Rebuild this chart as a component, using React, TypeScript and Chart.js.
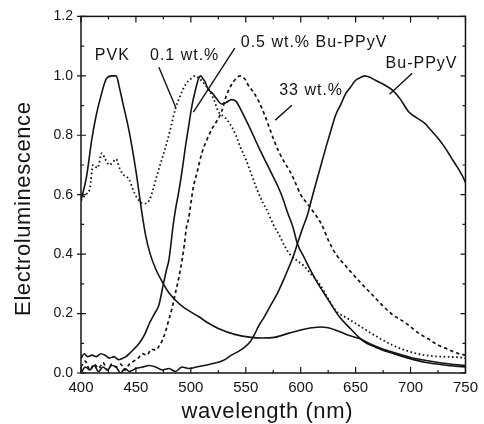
import React, { useEffect, useRef } from "react";
import { Chart, registerables } from "chart.js";

Chart.register(...registerables);

// ---- data (wavelength nm, normalized electroluminescence) ----
const pvkWl = [400, 405, 410, 414, 418, 423, 428, 432, 435, 438, 444, 450, 455, 459, 463, 468, 475, 480, 486, 492, 498, 507, 515, 525, 540, 555, 565, 576, 590, 600, 610, 618, 625, 635, 645, 653, 665, 675, 684, 700, 713, 730, 750];
const pvkEl = [0.58, 0.66, 0.79, 0.87, 0.93, 0.99, 1.0, 1.0, 0.96, 0.91, 0.81, 0.68, 0.55, 0.46, 0.4, 0.35, 0.3, 0.27, 0.245, 0.225, 0.21, 0.19, 0.17, 0.15, 0.13, 0.12, 0.118, 0.12, 0.135, 0.145, 0.152, 0.155, 0.152, 0.14, 0.125, 0.117, 0.095, 0.08, 0.07, 0.052, 0.043, 0.033, 0.025];

const w01Wl = [400, 404, 408, 411, 415, 419, 422, 426, 429, 432, 435, 438, 444, 447, 451, 457, 462, 465, 468, 472, 477, 482, 486, 490, 495, 500, 504, 508, 513, 517, 521, 525, 531, 537, 541, 545, 550, 554, 560, 566, 569, 575, 581, 585, 590, 596, 603, 610, 617, 625, 632, 642, 653, 668, 684, 698, 713, 728, 743, 750];
const w01El = [0.58, 0.6, 0.62, 0.7, 0.69, 0.74, 0.72, 0.7, 0.71, 0.72, 0.69, 0.67, 0.65, 0.62, 0.59, 0.57, 0.58, 0.61, 0.65, 0.7, 0.76, 0.83, 0.89, 0.93, 0.97, 0.99, 1.0, 0.99, 0.97, 0.95, 0.92, 0.88, 0.86, 0.83, 0.8, 0.76, 0.72, 0.68, 0.62, 0.57, 0.55, 0.5, 0.46, 0.43, 0.4, 0.38, 0.36, 0.33, 0.3, 0.25, 0.21, 0.185, 0.16, 0.125, 0.093, 0.073, 0.06, 0.055, 0.053, 0.05];

const w05Wl = [400, 403, 406, 410, 414, 418, 422, 426, 430, 434, 438, 441, 444, 448, 453, 458, 462, 467, 471, 475, 478, 480, 484, 486, 489, 492, 495, 498, 501, 504, 507, 509, 511, 513, 515, 517, 520, 524, 528, 532, 537, 541, 545, 549, 553, 558, 563, 567, 573, 579, 584, 588, 593, 597, 603, 609, 615, 621, 627, 635, 645, 653, 660, 668, 676, 684, 698, 713, 730, 750];
const w05El = [0.05, 0.065, 0.055, 0.06, 0.055, 0.065, 0.06, 0.05, 0.055, 0.045, 0.05, 0.055, 0.065, 0.08, 0.1, 0.13, 0.165, 0.2, 0.23, 0.3, 0.35, 0.38, 0.5, 0.55, 0.61, 0.68, 0.76, 0.83, 0.9, 0.95, 0.99, 1.0, 0.99, 0.98, 0.96, 0.95, 0.94, 0.92, 0.905, 0.91, 0.92, 0.915, 0.89, 0.86, 0.83, 0.79, 0.75, 0.72, 0.675, 0.63, 0.585, 0.54, 0.49, 0.435, 0.39, 0.345, 0.305, 0.27, 0.235, 0.19, 0.15, 0.12, 0.1, 0.087, 0.075, 0.066, 0.05, 0.036, 0.027, 0.02];

const w33Wl = [400, 404, 408, 412, 416, 420, 424, 428, 432, 436, 440, 444, 448, 452, 456, 460, 464, 468, 471, 474, 477, 480, 483, 486, 489, 492, 494, 496, 498, 502, 506, 510, 514, 519, 524, 528, 532, 537, 541, 545, 549, 552, 556, 561, 567, 571, 576, 580, 585, 590, 594, 600, 606, 612, 619, 626, 632, 641, 653, 666, 675, 684, 695, 707, 716, 725, 734, 743, 750];
const w33El = [0.02, 0.04, 0.01, 0.03, 0.015, 0.035, 0.01, 0.03, 0.02, 0.03, 0.01, 0.03, 0.04, 0.05, 0.065, 0.06, 0.08, 0.077, 0.09, 0.11, 0.14, 0.18, 0.22, 0.27, 0.32, 0.38, 0.43, 0.49, 0.52, 0.62, 0.68, 0.74, 0.78, 0.82, 0.85, 0.88, 0.93, 0.97, 0.99, 1.0, 0.99, 0.97, 0.95, 0.92, 0.87, 0.83, 0.78, 0.745, 0.71, 0.68, 0.65, 0.6, 0.57, 0.54, 0.5, 0.44, 0.4, 0.36, 0.31, 0.26, 0.225, 0.195, 0.17, 0.135, 0.115, 0.094, 0.08, 0.066, 0.06];

const buWl = [400, 404, 408, 412, 416, 420, 424, 428, 432, 436, 440, 444, 450, 456, 462, 468, 474, 480, 486, 492, 498, 505, 512, 518, 525, 531, 537, 543, 549, 554, 558, 562, 567, 573, 579, 584, 588, 593, 597, 602, 606, 611, 617, 623, 627, 632, 636, 641, 645, 650, 655, 658, 663, 668, 676, 684, 691, 698, 705, 713, 719, 725, 731, 737, 743, 749, 750];
const buEl = [0.0, 0.02, 0.01, 0.025, 0.005, 0.02, 0.01, 0.025, 0.02, 0.0, 0.015, 0.005, 0.015, 0.02, 0.025, 0.02, 0.01, 0.015, 0.005, 0.02, 0.015, 0.02, 0.025, 0.03, 0.036, 0.045, 0.06, 0.072, 0.087, 0.105, 0.13, 0.16, 0.19, 0.23, 0.27, 0.31, 0.345, 0.39, 0.435, 0.49, 0.53, 0.6, 0.68, 0.76, 0.81, 0.87, 0.9, 0.94, 0.96, 0.985, 0.995, 1.0, 0.995, 0.985, 0.97, 0.95, 0.92, 0.88, 0.86, 0.84, 0.815, 0.79, 0.76, 0.725, 0.69, 0.65, 0.64];

const xTicks = [400, 450, 500, 550, 600, 650, 700, 750];
const yTicks = [0, 0.2, 0.4, 0.6, 0.8, 1.0, 1.2];

const xTitle = "wavelength (nm)";
const yTitle = "Electroluminescence";

// annotation texts and leader lines, in data coordinates
const labelTexts = ["PVK", "0.1 wt.%", "0.5 wt.% Bu-PPyV", "Bu-PPyV", "33 wt.%"];
const labelAt = [
  [412.6, 1.052],
  [462.8, 1.052],
  [545.4, 1.096],
  [677.3, 1.026],
  [580.4, 0.935],
];
const leaders = [
  [[470.9, 1.029], [486.2, 0.894]],
  [[540.0, 1.093], [502.3, 0.878]],
  [[701.5, 1.009], [680.9, 0.938]],
  [[592.0, 0.901], [576.8, 0.851]],
];

const INK = "#141414";
const FONT = "'Liberation Sans', Arial, sans-serif";

const pts = (xs: number[], ys: number[]) => xs.map((x, i) => ({ x, y: ys[i] }));

const decorPlugin = {
  id: "decor",
  afterDatasetsDraw(chart: any) {
    const { ctx, chartArea: a, scales } = chart;
    const xs = scales.x;
    const ys = scales.y;
    ctx.save();
    ctx.strokeStyle = INK;
    ctx.fillStyle = INK;
    // frame
    ctx.lineWidth = 1.5;
    ctx.strokeRect(a.left, a.top, a.right - a.left, a.bottom - a.top);
    ctx.lineWidth = 1.2;
    ctx.beginPath();
    // x ticks (major 50, minor 25) inward on bottom and top
    for (let v = 400; v <= 750; v += 25) {
      const px = xs.getPixelForValue(v);
      const len = v % 50 === 0 ? 6 : 3;
      ctx.moveTo(px, a.bottom);
      ctx.lineTo(px, a.bottom - len);
      ctx.moveTo(px, a.top);
      ctx.lineTo(px, a.top + len);
    }
    // y ticks (major 0.2, minor 0.1)
    for (let i = 0; i <= 12; i++) {
      const py = ys.getPixelForValue(i / 10);
      const major = i % 2 === 0;
      const len = major ? 5 : 3;
      ctx.moveTo(a.left - (major ? 4 : 0), py);
      ctx.lineTo(a.left + len, py);
      ctx.moveTo(a.right, py);
      ctx.lineTo(a.right - len, py);
    }
    ctx.stroke();

    // leader lines
    ctx.lineWidth = 1.4;
    ctx.beginPath();
    leaders.forEach(([p, q]) => {
      ctx.moveTo(xs.getPixelForValue(p[0]), ys.getPixelForValue(p[1]));
      ctx.lineTo(xs.getPixelForValue(q[0]), ys.getPixelForValue(q[1]));
    });
    ctx.stroke();

    // annotation labels
    ctx.font = `16px ${FONT}`;
    (ctx as any).letterSpacing = "1px";
    ctx.textAlign = "left";
    ctx.textBaseline = "alphabetic";
    labelTexts.forEach((t, i) => {
      ctx.fillText(t, xs.getPixelForValue(labelAt[i][0]), ys.getPixelForValue(labelAt[i][1]));
    });

    // axis titles
    ctx.font = `22px ${FONT}`;
    (ctx as any).letterSpacing = "0.6px";
    ctx.textAlign = "center";
    ctx.fillText(xTitle, (a.left + a.right) / 2 - 6, 418);
    ctx.save();
    ctx.translate(30, (a.top + a.bottom) / 2 + 14);
    ctx.rotate(-Math.PI / 2);
    ctx.fillText(yTitle, 0, 0);
    ctx.restore();
    ctx.restore();
  },
};

export default function App() {
  const ref = useRef<HTMLCanvasElement | null>(null);
  useEffect(() => {
    if (!ref.current) return;
    const solid = { borderColor: INK, borderWidth: 1.6, pointRadius: 0, fill: false, cubicInterpolationMode: "monotone" as const };
    const chart = new Chart(ref.current, {
      type: "line",
      data: {
        datasets: [
          { label: "PVK", data: pts(pvkWl, pvkEl), ...solid },
          { label: "0.1 wt.%", data: pts(w01Wl, w01El), ...solid, borderWidth: 1.8, borderDash: [1.6, 2.6] },
          { label: "0.5 wt.% Bu-PPyV", data: pts(w05Wl, w05El), ...solid },
          { label: "33 wt.%", data: pts(w33Wl, w33El), ...solid, borderWidth: 1.7, borderDash: [3.5, 3] },
          { label: "Bu-PPyV", data: pts(buWl, buEl), ...solid },
        ],
      },
      options: {
        animation: false,
        responsive: false,
        devicePixelRatio: 1,
        layout: { padding: { left: 0, right: 13, top: 16, bottom: 0 } },
        plugins: { legend: { display: false }, tooltip: { enabled: false } },
        scales: {
          x: {
            type: "linear",
            min: 400,
            max: 750,
            afterFit: (s: any) => { s.height = 51; },
            afterBuildTicks: (s: any) => { s.ticks = xTicks.map((v) => ({ value: v })); },
            grid: { display: false, drawTicks: false },
            border: { display: false },
            ticks: { color: INK, font: { size: 15, family: FONT }, padding: 6, maxRotation: 0, autoSkip: false },
          },
          y: {
            type: "linear",
            min: 0,
            max: 1.2,
            afterFit: (s: any) => { s.width = 81; },
            afterBuildTicks: (s: any) => { s.ticks = yTicks.map((v) => ({ value: v })); },
            grid: { display: false, drawTicks: false },
            border: { display: false },
            ticks: { color: INK, font: { size: 14, family: FONT }, padding: 8, callback: (v: any) => Number(v).toFixed(1) },
          },
        },
      },
      plugins: [decorPlugin],
    });
    return () => chart.destroy();
  }, []);
  return (
    <div style={{ position: "absolute", left: 0, top: 0, width: 484, height: 424, background: "#fff" }}>
      <canvas ref={ref} width={484} height={424} style={{ width: 484, height: 424, display: "block" }} />
    </div>
  );
}
